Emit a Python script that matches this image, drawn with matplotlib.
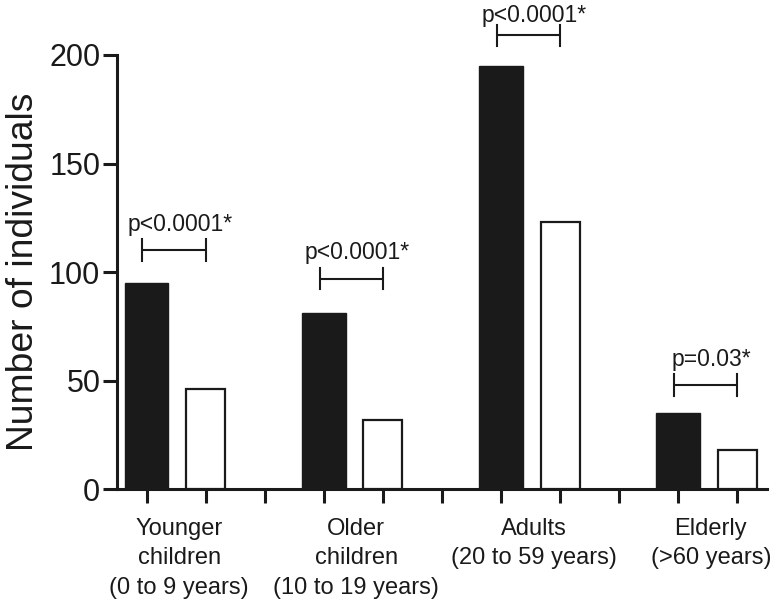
import matplotlib
matplotlib.use("Agg")
import matplotlib.pyplot as plt

categories = ["Younger\nchildren\n(0 to 9 years)", "Older\nchildren\n(10 to 19 years)",
              "Adults\n(20 to 59 years)", "Elderly\n(>60 years)"]
group_a = [95, 81, 195, 35]      # black bars
group_b = [46, 32, 123, 18]      # white bars
p_labels = ["p<0.0001*", "p<0.0001*", "p<0.0001*", "p=0.03*"]
bracket_y = [110, 97, 209, 48]
y_ticks = [0, 50, 100, 150, 200]

plt.rcParams['font.family'] = ['Liberation Sans', 'DejaVu Sans']

fig = plt.figure(figsize=(7.71, 6.03), dpi=100)
ax = fig.add_axes([0.1518, 0.189, 0.843, 0.7198])

pos_a = [3 * i for i in range(len(categories))]
pos_b = [3 * i + 1 for i in range(len(categories))]

ax.bar(pos_a, group_a, width=0.74, color="#1a1a1a", edgecolor="#1a1a1a", linewidth=1.0, zorder=3)
ax.bar(pos_b, group_b, width=0.66, color="white", edgecolor="#1a1a1a", linewidth=1.6, zorder=3)

for i, (xa, xb) in enumerate(zip(pos_a, pos_b)):
    y = bracket_y[i]
    x0, x1 = xa - 0.07, xb
    ax.plot([x0, x1], [y, y], color="#1a1a1a", lw=1.5, clip_on=False, solid_capstyle="butt")
    ax.plot([x0, x0], [y - 5, y + 5], color="#1a1a1a", lw=1.5, clip_on=False)
    ax.plot([x1, x1], [y - 5, y + 5], color="#1a1a1a", lw=1.5, clip_on=False)
    off = 6.5 if y < 200 else 4.0
    ax.text((x0 + x1) / 2 + 0.1, y + off, p_labels[i], ha="center", va="bottom",
            fontsize=16.5, color="#1a1a1a", clip_on=False)

ax.set_xlim(-0.5, 10.5)
ax.set_ylim(0, 200)
ax.set_yticks(y_ticks)
ax.set_yticklabels([str(v) for v in y_ticks], fontsize=22, color="#1a1a1a")
ax.set_xticks(list(range(0, 11)))
ax.set_xticklabels([])
ax.tick_params(axis="both", direction="out", length=10, width=2.2, color="#1a1a1a", pad=2)

for xa, xb, lab in zip(pos_a, pos_b, categories):
    ax.text((xa + xb) / 2 + 0.05, -13.5, lab, ha="center", va="top", fontsize=17,
            color="#1a1a1a", linespacing=1.42, transform=ax.transData, clip_on=False)

ax.set_ylabel("Number of individuals", fontsize=26.8, color="#1a1a1a", labelpad=6)

for s in ["top", "right"]:
    ax.spines[s].set_visible(False)
for s in ["left", "bottom"]:
    ax.spines[s].set_linewidth(2.2)
    ax.spines[s].set_color("#1a1a1a")

fig.savefig("out.png", dpi=100)
